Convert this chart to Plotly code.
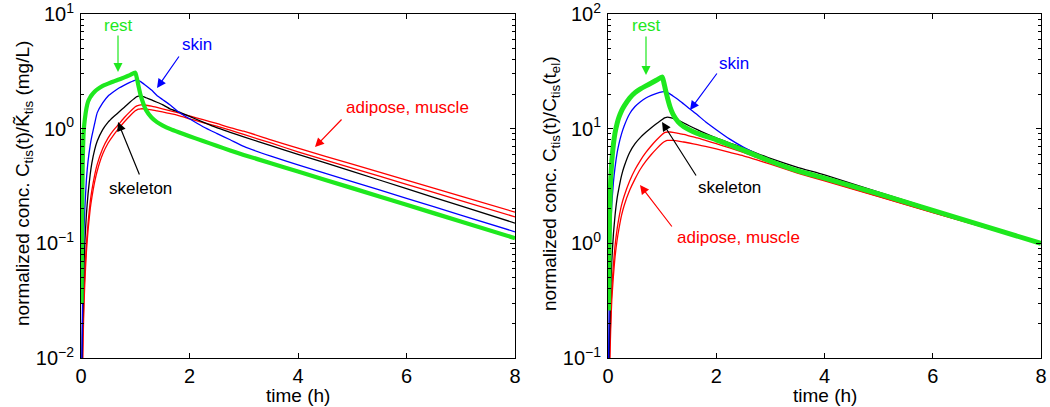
import plotly.graph_objects as go

# ---------------- data ----------------
T = [0.01, 0.02, 0.03, 0.05, 0.07, 0.1, 0.13, 0.17, 0.2, 0.25, 0.3, 0.4, 0.5, 0.6, 0.7, 0.8, 0.9, 1.0,
     1.03, 1.06, 1.1, 1.15, 1.2, 1.3, 1.4, 1.5, 1.65, 1.8, 2.0, 2.25, 2.5, 2.75, 3.0, 3.5, 4.0,
     5.0, 6.0, 7.0, 8.0]

# left panel: C_tis(t)/K_tis (mg/L)
left_rest = [0.03, 0.15, 0.45, 0.95, 1.2, 1.5, 1.72, 1.88, 1.97, 2.1, 2.2, 2.36, 2.47, 2.58, 2.68, 2.8, 2.93, 3.08,
             2.75, 2.35, 1.95, 1.65, 1.45, 1.25, 1.14, 1.07, 0.99, 0.93, 0.86, 0.78, 0.71, 0.645, 0.59, 0.50, 0.423,
             0.303, 0.217, 0.155, 0.111]
left_skin = [0.006, 0.015, 0.035, 0.11, 0.2, 0.36, 0.52, 0.72, 0.86, 1.1, 1.38, 1.68, 1.93, 2.1, 2.26, 2.4, 2.53, 2.65,
             2.66, 2.63, 2.57, 2.47, 2.37, 2.17, 1.95, 1.8, 1.6, 1.4, 1.22, 1.04, 0.91, 0.8, 0.7, 0.575, 0.483,
             0.345, 0.247, 0.176, 0.126]
left_skeleton = [0.004, 0.01, 0.022, 0.055, 0.1, 0.18, 0.27, 0.4, 0.5, 0.65, 0.78, 0.98, 1.14, 1.27, 1.4, 1.54, 1.7, 1.86,
                 1.9, 1.92, 1.92, 1.9, 1.86, 1.78, 1.7, 1.62, 1.48, 1.4, 1.28, 1.14, 1.02, 0.93, 0.85, 0.71, 0.598,
                 0.424, 0.30, 0.212, 0.150]
left_adipose = [0.002, 0.005, 0.011, 0.03, 0.055, 0.1, 0.15, 0.23, 0.29, 0.39, 0.49, 0.67, 0.83, 0.97, 1.1, 1.25, 1.4, 1.55,
                1.58, 1.6, 1.61, 1.61, 1.6, 1.57, 1.53, 1.49, 1.43, 1.37, 1.29, 1.2, 1.11, 1.02, 0.95, 0.8, 0.675,
                0.49, 0.356, 0.258, 0.187]
left_muscle = [0.0015, 0.004, 0.009, 0.024, 0.045, 0.085, 0.13, 0.2, 0.25, 0.34, 0.43, 0.6, 0.75, 0.88, 1.01, 1.15, 1.29, 1.43,
               1.46, 1.48, 1.49, 1.49, 1.48, 1.46, 1.43, 1.4, 1.35, 1.3, 1.22, 1.13, 1.05, 0.97, 0.89, 0.75, 0.628,
               0.453, 0.327, 0.236, 0.170]

# right panel: C_tis(t)/C_tis(t_el)
right_rest = [0.26, 0.9, 1.8, 3.6, 5.2, 7.3, 9.2, 11.2, 12.5, 14.3, 15.8, 18.5, 20.6, 22.2, 23.6, 25.0, 26.6, 28.2,
              25.5, 22.0, 18.5, 15.3, 13.4, 11.4, 10.4, 9.8, 9.1, 8.6, 8.0, 7.2, 6.5, 5.8, 5.2, 4.3, 3.7,
              2.7, 1.94, 1.39, 1.0]
right_skin = [0.08, 0.25, 0.55, 1.3, 2.2, 3.4, 4.6, 6.2, 7.3, 9.0, 10.6, 13.5, 15.6, 17.2, 18.5, 19.5, 20.3, 20.9,
              21.0, 20.9, 20.6, 20.0, 19.3, 17.9, 16.4, 15.0, 13.2, 11.5, 9.8, 8.1, 6.9, 6.0, 5.3, 4.35, 3.72,
              2.7, 1.94, 1.39, 1.0]
right_skeleton = [0.04, 0.09, 0.17, 0.4, 0.7, 1.2, 1.75, 2.5, 3.0, 3.9, 4.7, 6.2, 7.4, 8.4, 9.3, 10.2, 11.1, 12.0,
                  12.3, 12.5, 12.6, 12.5, 12.3, 11.8, 11.2, 10.6, 9.8, 9.1, 8.3, 7.5, 6.8, 6.1, 5.5, 4.6, 3.95,
                  2.8, 1.98, 1.4, 1.0]
right_adipose = [0.02, 0.05, 0.1, 0.23, 0.4, 0.65, 0.95, 1.35, 1.65, 2.15, 2.6, 3.5, 4.4, 5.3, 6.2, 7.1, 8.0, 8.9,
                 9.15, 9.3, 9.35, 9.35, 9.3, 9.1, 8.9, 8.65, 8.3, 7.9, 7.4, 6.8, 6.2, 5.6, 5.05, 4.2, 3.55,
                 2.57, 1.86, 1.36, 1.0]
right_muscle = [0.015, 0.04, 0.08, 0.18, 0.32, 0.52, 0.76, 1.08, 1.32, 1.75, 2.15, 2.9, 3.65, 4.45, 5.2, 5.95, 6.7, 7.45,
                7.65, 7.8, 7.9, 7.92, 7.9, 7.8, 7.65, 7.5, 7.25, 7.0, 6.65, 6.2, 5.8, 5.35, 4.9, 4.1, 3.5,
                2.55, 1.85, 1.36, 1.0]

x_ticks = [0, 2, 4, 6, 8]
left_yticks = [0.01, 0.1, 1, 10]
left_ytext = ["10<sup>−2</sup>", "10<sup>−1</sup>", "10<sup>0</sup>", "10<sup>1</sup>"]
right_yticks = [0.1, 1, 10, 100]
right_ytext = ["10<sup>−1</sup>", "10<sup>0</sup>", "10<sup>1</sup>", "10<sup>2</sup>"]

GREEN = "#1ee81e"
BLUE = "#0000ff"
RED = "#ff0000"
BLACK = "#000000"
FONT = "Liberation Sans, Arial, sans-serif"

W, H = 1050, 407

fig = go.Figure()

def add_series(vals, color, width, xa, ya):
    fig.add_trace(go.Scatter(x=T, y=vals, mode="lines", xaxis=xa, yaxis=ya,
                             line=dict(color=color, width=width, shape="spline", smoothing=0.5),
                             showlegend=False, hoverinfo="skip"))

for xa, ya, series in [
    ("x", "y", [(left_adipose, RED, 1.3), (left_muscle, RED, 1.3), (left_skeleton, BLACK, 1.3),
                (left_skin, BLUE, 1.3), (left_rest, GREEN, 4.2)]),
    ("x2", "y2", [(right_adipose, RED, 1.3), (right_muscle, RED, 1.3), (right_skeleton, BLACK, 1.3),
                  (right_skin, BLUE, 1.3), (right_rest, GREEN, 5.0)]),
]:
    for vals, c, w in series:
        add_series(vals, c, w, xa, ya)

def minor_vals(lo, hi):
    out = []
    for e in range(lo, hi):
        for m in range(2, 10):
            out.append(m * 10 ** e)
    return out

def px(x):
    return x / W

def py(y):
    return 1 - y / H

axis_common = dict(showline=True, linecolor="black", linewidth=1, mirror="allticks",
                   ticks="inside", ticklen=5, tickcolor="black", showgrid=False, zeroline=False,
                   automargin=False, ticklabeloverflow="allow",
                   tickfont=dict(family=FONT, size=20, color="black"))

fig.update_layout(
    width=W, height=H, margin=dict(l=0, r=0, t=0, b=0),
    paper_bgcolor="white", plot_bgcolor="white",
    xaxis=dict(domain=[px(81), px(515)], range=[0, 8], tickvals=x_ticks, anchor="y",
               ticklabelstandoff=0, **axis_common),
    yaxis=dict(domain=[py(358), py(14)], type="log", range=[-2, 1], tickvals=left_yticks,
               ticktext=left_ytext, anchor="x", ticklabelstandoff=2,
               minor=dict(tickmode="array", tickvals=minor_vals(-2, 1), ticks="inside", ticklen=3,
                          tickcolor="black"),
               **axis_common),
    xaxis2=dict(domain=[px(608), px(1041)], range=[0, 8], tickvals=x_ticks, anchor="y2",
                ticklabelstandoff=0, **axis_common),
    yaxis2=dict(domain=[py(358), py(14)], type="log", range=[-1, 2], tickvals=right_yticks,
                ticktext=right_ytext, anchor="x2", ticklabelstandoff=2,
                minor=dict(tickmode="array", tickvals=minor_vals(-1, 2), ticks="inside", ticklen=3,
                           tickcolor="black"),
                **axis_common),
)

ann = []
def text(xp_, yp_, s, color, size=17, angle=0):
    ann.append(dict(x=px(xp_), y=py(yp_), xref="paper", yref="paper", text=s, showarrow=False,
                    font=dict(family=FONT, size=size, color=color), textangle=angle,
                    xanchor="center", yanchor="middle"))

def arrow(tx, ty, hx, hy, color):
    ann.append(dict(x=px(hx), y=py(hy), xref="paper", yref="paper", text="", showarrow=True,
                    ax=tx - hx, ay=ty - hy, axref="pixel", ayref="pixel",
                    arrowhead=2, arrowsize=1.5, arrowwidth=1.2, arrowcolor=color, standoff=0))

# left panel labels
text(118, 25, "rest", GREEN)
arrow(118, 34, 118, 72, GREEN)
text(197, 45, "skin", BLUE)
arrow(180, 55, 157, 88, BLUE)
text(140, 188, "skeleton", BLACK)
arrow(140, 176, 118, 122, BLACK)
text(407, 108, "adipose, muscle", RED)
arrow(343, 118, 315, 147, RED)

# right panel labels
text(646, 25, "rest", GREEN)
arrow(646, 35, 646, 75, GREEN)
text(734, 63, "skin", BLUE)
arrow(718, 72, 690, 110, BLUE)
text(729, 187, "skeleton", BLACK)
arrow(697, 177, 662, 122, BLACK)
text(738, 238, "adipose, muscle", RED)
arrow(673, 228, 640, 185, RED)

# axis titles
text(298, 395, "time (h)", BLACK, size=19)
text(825, 395, "time (h)", BLACK, size=19)
text(24, 184, "normalized conc. C<sub>tis</sub>(t)/K̃<sub>tis</sub> (mg/L)", BLACK, size=19, angle=-90)
text(551, 184, "normalized conc. C<sub>tis</sub>(t)/C<sub>tis</sub>(t<sub>el</sub>)", BLACK, size=19, angle=-90)

fig.update_layout(annotations=ann)
fig.write_html("out.html")
